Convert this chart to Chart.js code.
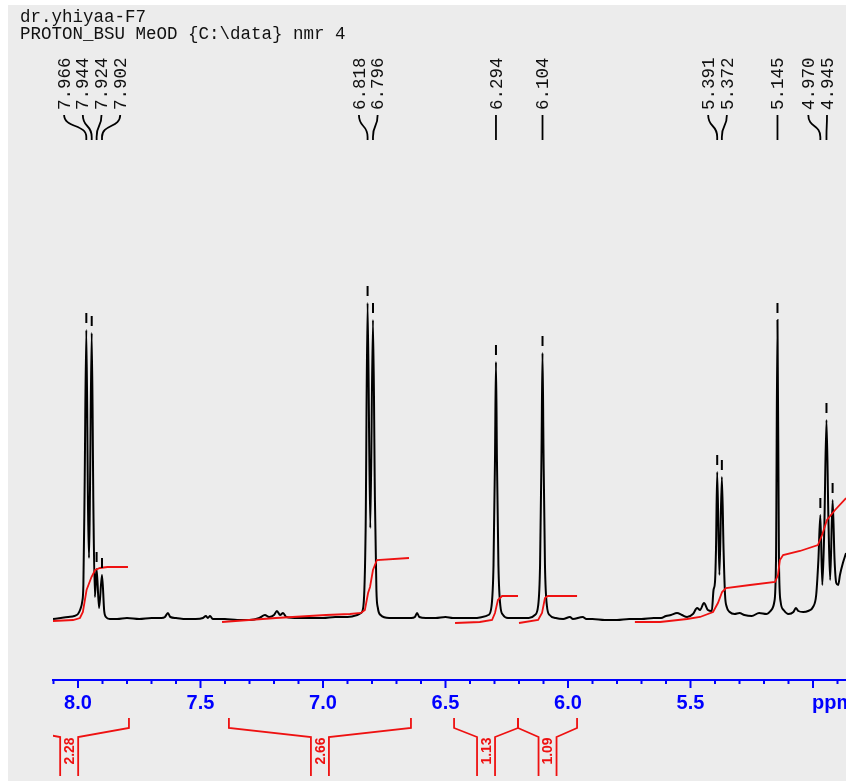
<!DOCTYPE html>
<html><head><meta charset="utf-8">
<script src="https://cdn.jsdelivr.net/npm/chart.js@4.4.1/dist/chart.umd.min.js"></script>
<style>html,body{margin:0;padding:0;background:#fff;}canvas{display:block;}</style>
</head><body>
<canvas id="c" width="846" height="781"></canvas>
<script>
// ---------- data ----------
const titleLines = ['dr.yhiyaa-F7', 'PROTON_BSU MeOD {C:\\data} nmr 4'];

// spectrum (chemical shift in ppm, intensity in arbitrary units)
const specPpm = [8.102,8.07,8.04,8.015,8.000,7.990,7.983,7.978,7.973,7.966,7.959,7.955,7.951,7.944,7.937,7.931,7.924,7.914,7.902,7.893,7.886,7.87,7.84,7.80,7.75,7.70,7.66,7.645,7.633,7.623,7.60,7.56,7.52,7.49,7.478,7.470,7.461,7.45,7.40,7.35,7.30,7.26,7.237,7.22,7.20,7.188,7.175,7.163,7.15,7.10,7.05,7.00,6.95,6.90,6.86,6.845,6.835,6.826,6.818,6.807,6.796,6.788,6.782,6.776,6.765,6.73,6.68,6.64,6.625,6.616,6.607,6.58,6.54,6.50,6.47,6.42,6.38,6.35,6.325,6.312,6.304,6.298,6.294,6.290,6.284,6.276,6.265,6.245,6.20,6.16,6.135,6.122,6.114,6.108,6.104,6.100,6.094,6.086,6.075,6.05,6.02,5.992,5.98,5.94,5.925,5.90,5.85,5.80,5.75,5.70,5.65,5.62,5.60,5.58,5.555,5.535,5.514,5.49,5.473,5.461,5.445,5.429,5.413,5.406,5.400,5.396,5.391,5.382,5.372,5.365,5.359,5.352,5.34,5.32,5.30,5.28,5.25,5.22,5.19,5.17,5.158,5.151,5.145,5.139,5.132,5.12,5.10,5.08,5.07,5.06,5.04,5.02,5.00,4.987,4.978,4.970,4.962,4.954,4.945,4.937,4.930,4.920,4.912,4.905,4.897,4.89,4.878,4.865];
const specInt = [1,2,3,4,6,11,18,35,130,290,110,62,130,287,110,23,51,12,45,9,3,1,1,2,1,2,2,3,7,3,2,1,1,2,4,2,4,1,1,0,0,2,5,3,5,9,5,7,3,2,2,2,3,3,5,7,14,90,317,92,300,120,30,12,5,2,2,2,3,7,3,2,2,3,2,2,2,3,5,14,55,160,258,160,55,14,5,2,2,2,5,14,55,170,267,170,55,14,5,2,1,3,1,3,1,1,0,0,1,1,2,2,4,5,7,5,3,6,12,10,17,10,9,30,38,70,148,45,143,70,25,13,8,6,7,5,4,7,6,10,18,60,300,60,18,10,6,8,12,9,8,9,13,25,60,105,35,90,200,100,40,120,60,37,35,45,57,67];

// integral traces
const int1Ppm = [8.102,8.02,7.992,7.98,7.965,7.945,7.93,7.91,7.88,7.796];
const int1Val = [-1,0,2,8,30,43,50,52,53,53];
const int2Ppm = [7.412,7.192,6.988,6.890,6.845,6.829,6.816,6.808,6.796,6.780,6.649];
const int2Val = [-2,2,5,6,7,10,27,33,50,60,62];
const int3Ppm = [6.461,6.36,6.31,6.298,6.286,6.269,6.204];
const int3Val = [-3,-2,0,7,20,24,24];
const int4Ppm = [6.200,6.122,6.106,6.094,6.082,5.963];
const int4Val = [-3,0,7,22,24,24];
const int5Ppm = [5.727,5.624,5.514,5.461,5.408,5.388,5.371,5.355,5.257,5.155,5.143,5.135,5.122,5.053,4.980,4.963,4.943,4.910,4.865];
const int5Val = [-2,-2,1,3,8,17,28,32,35,38,45,60,65,69,75,85,100,110,122];

// picked peaks
const peakPpm = [7.966,7.944,7.924,7.902,6.818,6.796,6.294,6.104,5.391,5.372,5.145,4.970,4.945];
const peakLabels = ['7.966','7.944','7.924','7.902','6.818','6.796','6.294','6.104','5.391','5.372','5.145','4.970','4.945'];
const extraPeakPpm = [4.920];

// integral regions under the axis
const intFrom = [8.28, 7.384, 6.465, 6.204];
const intTo = [7.792, 6.641, 6.204, 5.963];
const intLabels = ['2.28','2.66','1.13','1.09'];

// axis
const axisMin = 4.8653, axisMax = 8.1020;
const majorStep = 0.5, minorStep = 0.1;
const unitLabel = 'ppm', unitAt = 5.0;

// ---------- chart ----------
const COL = {bg:'#ececec', blue:'#0000ff', red:'#ee1111', black:'#000000'};
const AXIS_FONT = '"Liberation Sans Narrow", "Liberation Sans", Arial, sans-serif';
const pts = (xs, ys) => xs.map((x, i) => ({x: x, y: ys[i]}));
const isMajor = v => Math.abs(v / majorStep - Math.round(v / majorStep)) < 1e-6;

const nmrPlugin = {
  id: 'nmr',
  beforeDraw(chart) {
    const ctx = chart.ctx;
    ctx.save();
    ctx.fillStyle = '#ffffff'; ctx.fillRect(0, 0, chart.width, chart.height);
    ctx.fillStyle = COL.bg; ctx.fillRect(8, 5, chart.width - 8, chart.height - 5);
    ctx.restore();
  },
  afterDraw(chart) {
    const ctx = chart.ctx, xs = chart.scales.x, ys = chart.scales.y, area = chart.chartArea;
    ctx.save();
    // header
    ctx.fillStyle = '#111';
    ctx.font = '17.5px "Liberation Mono", "DejaVu Sans Mono", monospace';
    ctx.textAlign = 'left'; ctx.textBaseline = 'alphabetic';
    ctx.fillText(titleLines[0], 20, 22);
    ctx.fillText(titleLines[1], 20, 39);

    // axis tick marks
    ctx.strokeStyle = COL.blue; ctx.lineWidth = 2;
    xs.ticks.forEach(t => {
      const x = xs.getPixelForValue(t.value);
      ctx.beginPath(); ctx.moveTo(x, area.bottom); ctx.lineTo(x, area.bottom + (isMajor(t.value) ? 8 : 4)); ctx.stroke();
    });
    // unit label
    ctx.fillStyle = COL.blue;
    ctx.font = 'bold 20px ' + AXIS_FONT;
    ctx.textBaseline = 'middle'; ctx.textAlign = 'left';
    ctx.fillText(unitLabel, xs.getPixelForValue(unitAt) - 1, 703);

    // peak markers
    const apexOf = p => { let bi = 0, bd = 1e9; specPpm.forEach((v, i) => { const d = Math.abs(v - p); if (d < bd) { bd = d; bi = i; } }); return specInt[bi]; };
    ctx.strokeStyle = COL.black; ctx.lineWidth = 2;
    peakPpm.concat(extraPeakPpm).forEach(p => {
      const x = xs.getPixelForValue(p), y = ys.getPixelForValue(apexOf(p));
      ctx.beginPath(); ctx.moveTo(x, y - 17); ctx.lineTo(x, y - 7); ctx.stroke();
    });

    // peak labels
    const spacing = 18.7;
    const px = peakPpm.map(p => xs.getPixelForValue(p));
    const groups = []; let cur = [0];
    for (let i = 1; i < px.length; i++) { if (px[i] - px[i - 1] < spacing) cur.push(i); else { groups.push(cur); cur = [i]; } }
    groups.push(cur);
    const lx = new Array(px.length);
    groups.forEach(g => {
      const n = g.length;
      if (n === 1) { lx[g[0]] = px[g[0]]; return; }
      const mean = g.reduce((s, i) => s + px[i], 0) / n - 2;
      g.forEach((idx, k) => { lx[idx] = mean + (k - (n - 1) / 2) * spacing; });
      const over = lx[g[n - 1]] - (area.right - 19);
      if (over > 0) g.forEach(idx => { lx[idx] -= over; });
    });
    ctx.font = '17.5px "Liberation Mono", "DejaVu Sans Mono", monospace';
    ctx.fillStyle = '#111';
    ctx.lineWidth = 1.8;
    px.forEach((x, i) => {
      const l = lx[i];
      ctx.beginPath();
      ctx.moveTo(l, 115);
      if (Math.abs(l - x) < 0.5) ctx.lineTo(x, 140);
      else { ctx.bezierCurveTo(l, 128, x, 124, x, 137); ctx.lineTo(x, 140); }
      ctx.stroke();
      ctx.save();
      ctx.translate(l, 110); ctx.rotate(-Math.PI / 2);
      ctx.textAlign = 'left'; ctx.textBaseline = 'middle';
      ctx.fillText(peakLabels[i], 0, 1);
      ctx.restore();
    });

    // integral brackets
    ctx.save();
    ctx.beginPath(); ctx.rect(area.left, area.bottom + 2, area.right - area.left, chart.height - area.bottom); ctx.clip();
    ctx.strokeStyle = COL.red; ctx.fillStyle = COL.red; ctx.lineWidth = 1.8;
    intFrom.forEach((f, i) => {
      const xa = xs.getPixelForValue(f), xb = xs.getPixelForValue(intTo[i]);
      const xc = xs.getPixelForValue((f + intTo[i]) / 2);
      ctx.beginPath();
      ctx.moveTo(xa, 718); ctx.lineTo(xa, 728); ctx.lineTo(xc - 9, 737); ctx.lineTo(xc - 9, 776);
      ctx.moveTo(xb, 718); ctx.lineTo(xb, 728); ctx.lineTo(xc + 9, 737); ctx.lineTo(xc + 9, 776);
      ctx.stroke();
      ctx.save();
      ctx.translate(xc, 751); ctx.rotate(-Math.PI / 2);
      ctx.font = 'bold 14px "Liberation Sans", Arial, sans-serif';
      ctx.textAlign = 'center'; ctx.textBaseline = 'middle';
      ctx.fillText(intLabels[i], 0, 1);
      ctx.restore();
    });
    ctx.restore();
    ctx.restore();
  }
};

const redSet = (xs, ys) => ({data: pts(xs, ys), borderColor: COL.red, borderWidth: 1.8, pointRadius: 0, tension: 0, order: 0});

new Chart(document.getElementById('c'), {
  type: 'line',
  data: {
    datasets: [
      {data: pts(specPpm, specInt), borderColor: COL.black, borderWidth: 2, pointRadius: 0, cubicInterpolationMode: 'monotone', order: 1},
      redSet(int1Ppm, int1Val), redSet(int2Ppm, int2Val), redSet(int3Ppm, int3Val),
      redSet(int4Ppm, int4Val), redSet(int5Ppm, int5Val)
    ]
  },
  options: {
    responsive: false, animation: false, devicePixelRatio: 1,
    layout: {padding: {left: 53, right: 0, top: 0, bottom: 0}},
    plugins: {legend: {display: false}, tooltip: {enabled: false}},
    events: [],
    scales: {
      x: {
        type: 'linear', reverse: true, min: axisMin, max: axisMax, position: 'bottom',
        border: {display: true, color: COL.blue, width: 2},
        grid: {display: false, drawTicks: false},
        ticks: {
          stepSize: minorStep, includeBounds: false, autoSkip: false, maxRotation: 0, maxTicksLimit: 100,
          color: COL.blue, padding: 11,
          font: {family: AXIS_FONT, size: 20, weight: 'bold'},
          callback: v => (isMajor(v) && Math.abs(v - unitAt) > 1e-6) ? v.toFixed(1) : ''
        },
        afterFit: s => { s.height = 101; s.paddingLeft = 0; s.paddingRight = 0; }
      },
      y: {type: 'linear', display: false, min: -60, max: 620}
    }
  },
  plugins: [nmrPlugin]
});
</script>
</body></html>
